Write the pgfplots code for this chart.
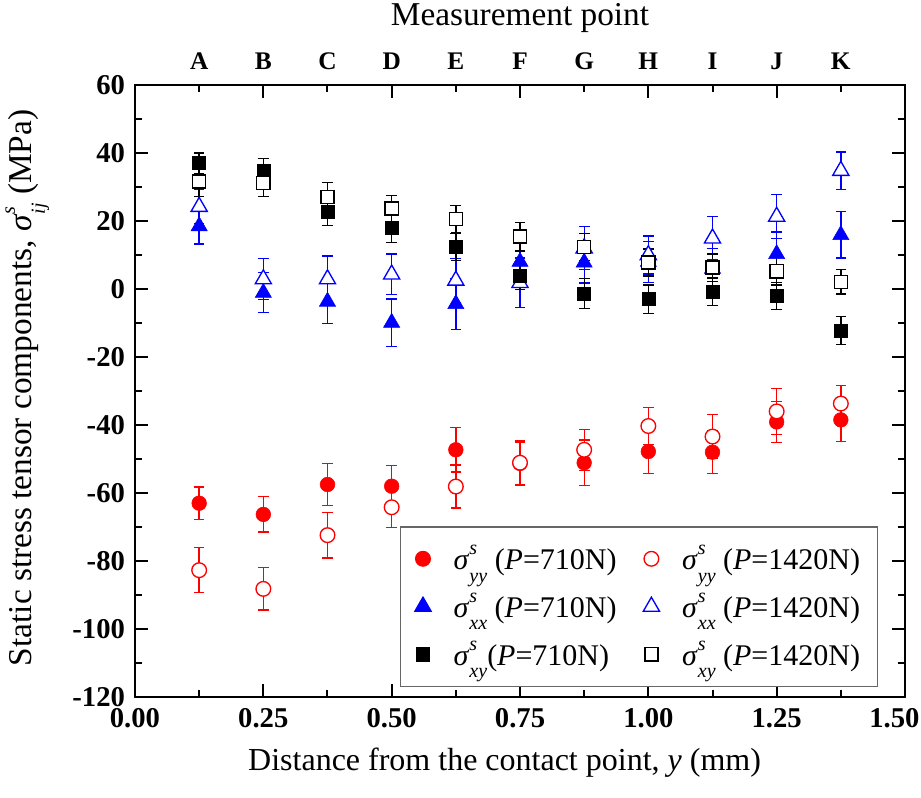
\documentclass[border=0pt]{standalone}
\usepackage{pgfplots}
\pgfplotsset{compat=1.18}
\usepackage{pgfplotstable}
\usepackage{fontspec}
\setmainfont{Liberation Serif}

\newcommand{\sig}[1]{\textit{σ}\rlap{\raisebox{0.5em}{\fontsize{15}{15}\selectfont\textit{s}}}\raisebox{-0.4em}{\fontsize{15}{15}\selectfont\textit{#1}}}
\newcommand{\tfont}{\fontsize{22.5}{27}\selectfont}

\pgfplotstableread{
x y e
0.125 -63.0 4.8
0.250 -66.3 5.2
0.375 -57.5 6.1
0.500 -58.0 6.0
0.625 -47.3 6.5
0.750 -51.3 6.3
0.875 -51.1 6.7
1.000 -47.8 6.5
1.125 -48.0 6.3
1.250 -39.1 6.0
1.375 -38.5 6.4
}\yyA
\pgfplotstableread{
x y e
0.125 -82.7 6.6
0.250 -88.2 6.2
0.375 -72.4 6.7
0.500 -64.2 6.0
0.625 -58.1 6.3
0.750 -51.1 6.5
0.875 -47.3 6.0
1.000 -40.3 5.5
1.125 -43.4 6.4
1.250 -36.0 6.7
1.375 -33.7 5.4
}\yyB
\pgfplotstableread{
x y e
0.125 18.5 5.3
0.250 -1.1 5.9
0.375 -3.7 6.5
0.500 -9.9 7.0
0.625 -4.4 7.5
0.750 8.0 6.0
0.875 7.8 6.0
1.000 8.0 6.0
1.125 6.0 6.0
1.250 10.3 6.5
1.375 15.9 6.8
}\xxA
\pgfplotstableread{
x y e
0.125 24.2 5.0
0.250 2.9 6.0
0.375 2.9 6.8
0.500 4.3 6.0
0.625 2.5 6.5
0.750 1.8 7.3
0.875 12.0 6.3
1.000 10.0 5.6
1.125 14.9 6.4
1.250 21.3 6.5
1.375 34.8 5.5
}\xxB
\pgfplotstableread{
x y e
0.125 37.0 3.0
0.250 34.8 3.5
0.375 22.6 4.0
0.500 17.9 4.2
0.625 12.3 4.0
0.750 3.9 4.0
0.875 -1.3 4.4
1.000 -3.0 4.2
1.125 -0.8 4.0
1.250 -2.1 4.0
1.375 -12.2 4.1
}\xyA
\pgfplotstableread{
x y e
0.125 31.6 4.3
0.250 31.2 4.0
0.375 27.0 4.3
0.500 23.7 3.8
0.625 20.5 4.0
0.750 15.4 4.2
0.875 12.4 4.0
1.000 7.8 4.0
1.125 6.3 4.0
1.250 5.2 4.0
1.375 2.1 3.6
}\xyB

\begin{document}
\begin{tikzpicture}
\path[use as bounding box] (-101.25pt,-75.75pt) rectangle (589.5pt,522.75pt);
\begin{axis}[
  at={(0,0)}, anchor=south west,
  width=577.5pt, height=459pt, scale only axis,
  xmin=0, xmax=1.5, ymin=-120, ymax=60,
  xtick={0,0.25,0.5,0.75,1,1.25,1.5},
  xticklabels={0.00,0.25,0.50,0.75,1.00,1.25,\hspace*{-16pt}1.50},
  minor x tick num=1,
  ytick={-120,-100,-80,-60,-40,-20,0,20,40,60},
  yticklabels={-120,-100,-80,-60,-40,-20,0,20,40,60},
  minor y tick num=1,
  tick align=inside,
  major tick length=10pt, minor tick length=5pt,
  axis line style={line width=1.5pt},
  every tick/.style={line width=1.5pt, black},
  ticklabel style={font=\fontsize{21.5}{26}\selectfont\bfseries},
  xticklabel style={yshift=-5pt},
  yticklabel style={xshift=-4pt},
  xlabel={Distance from the contact point, \textit{y} (mm)},
  xlabel style={font=\fontsize{24}{29}\selectfont, at={(axis description cs:0.48,-0.108)}, anchor=center},
  ylabel={Static stress tensor components, \sig{ij} (MPa)},
  ylabel style={font=\fontsize{25}{30}\selectfont, at={(axis description cs:-0.14,0.505)}, anchor=center},
  legend columns=2,
  legend cell align=left,
  legend style={at={(axis description cs:0.965,0.279)}, anchor=north east,
    draw=black!60, line width=1pt, font=\tfont,
    inner xsep=11pt, inner ysep=12pt, row sep=12pt,
    /tikz/every odd column/.append style={column sep=15pt},
    /tikz/every even column/.append style={column sep=18pt}},
  error bars/error bar style={line width=1pt},
  error bars/error mark options={rotate=90, mark size=4pt, line width=1pt},
]
\addplot[only marks, red, mark=*, mark size=5.5pt, mark options={fill=red},
  error bars/.cd, y dir=both, y explicit]
  table[x=x, y=y, y error=e]{\yyA};
\addlegendentry{\sig{yy} (\textit{P}=710N)}
\addplot[only marks, red, mark=*, mark size=5.5pt, mark options={fill=white, line width=1pt},
  error bars/.cd, y dir=both, y explicit]
  table[x=x, y=y, y error=e]{\yyB};
\addlegendentry{\sig{yy} (\textit{P}=1420N)}
\addplot[only marks, blue, mark=triangle*, mark size=7pt, mark options={fill=blue},
  error bars/.cd, y dir=both, y explicit]
  table[x=x, y=y, y error=e]{\xxA};
\addlegendentry{\sig{xx} (\textit{P}=710N)}
\addplot[only marks, blue, mark=triangle*, mark size=7pt, mark options={fill=white, line width=1pt},
  error bars/.cd, y dir=both, y explicit]
  table[x=x, y=y, y error=e]{\xxB};
\addlegendentry{\sig{xx} (\textit{P}=1420N)}
\addplot[only marks, black, mark=square*, mark size=4.9pt, mark options={fill=black},
  error bars/.cd, y dir=both, y explicit]
  table[x=x, y=y, y error=e]{\xyA};
\addlegendentry{\sig{xy}(\textit{P}=710N)}
\addplot[only marks, black, mark=square*, mark size=4.9pt, mark options={fill=white, line width=1pt},
  error bars/.cd, y dir=both, y explicit]
  table[x=x, y=y, y error=e]{\xyB};
\addlegendentry{\sig{xy} (\textit{P}=1420N)}
\end{axis}
\begin{axis}[
  at={(0,0)}, anchor=south west,
  width=577.5pt, height=459pt, scale only axis,
  xmin=0, xmax=1.5, ymin=-120, ymax=60,
  axis x line*=top, hide y axis,
  axis line style={draw=none},
  xtick={0.125,0.25,0.375,0.5,0.625,0.75,0.875,1,1.125,1.25,1.375},
  xticklabels={A,B,C,D,E,F,G,H,I,J,K},
  major tick length=0pt,
  xticklabel style={font=\fontsize{19}{23}\selectfont\bfseries, yshift=8pt},
  xlabel={Measurement point},
  xlabel style={font=\fontsize{25}{30}\selectfont, at={(axis description cs:0.5,1.109)}, anchor=center},
]
\end{axis}
\end{tikzpicture}
\end{document}
